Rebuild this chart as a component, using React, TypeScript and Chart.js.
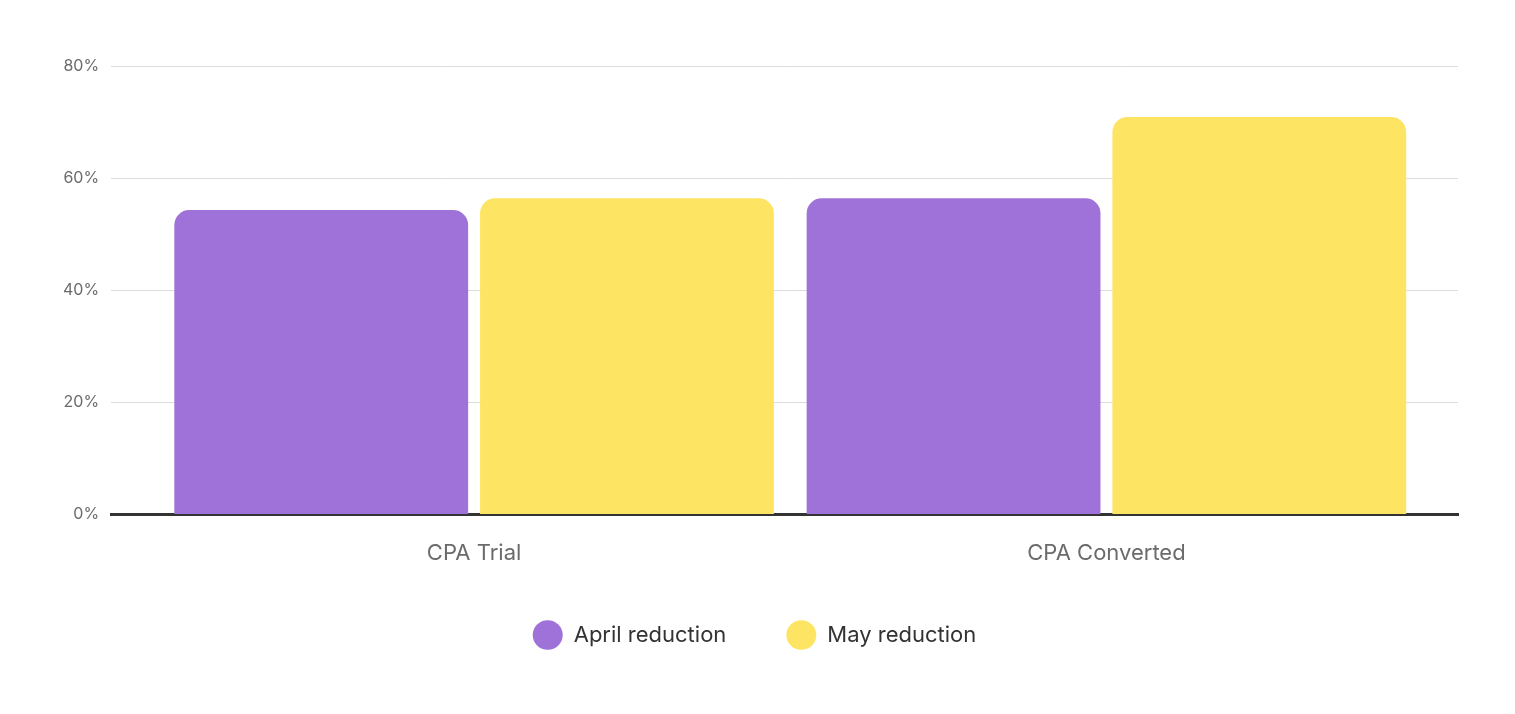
import React, { useEffect, useRef } from "react";
import { Chart, registerables } from "chart.js";

Chart.register(...registerables);

const categories = ["CPA Trial", "CPA Converted"];
const aprilReduction = [54.3, 56.4];
const mayReduction = [56.4, 70.9];
const yMax = 80;
const yStep = 20;

// category domain is a bit wider than the two slots (grid runs past the bars)
const xStartValue = -0.574;
const xValueRange = 2.13;

const App = () => {
  const chartRef = useRef<HTMLCanvasElement>(null);

  useEffect(() => {
    document.body.style.margin = "0";
    const ctx = chartRef.current?.getContext("2d");
    if (!ctx) return;

    const myChart = new Chart(ctx, {
      type: "bar",
      data: {
        labels: categories,
        datasets: [
          {
            label: "April reduction",
            data: aprilReduction,
            backgroundColor: "#9E72D8",
            borderRadius: 15,
            borderSkipped: "start",
          },
          {
            label: "May reduction",
            data: mayReduction,
            backgroundColor: "#FEE463",
            borderRadius: 15,
            borderSkipped: "start",
          },
        ],
      },
      options: {
        animation: false,
        responsive: true,
        maintainAspectRatio: false,
        categoryPercentage: 0.967,
        barPercentage: 0.961,
        layout: {
          padding: { top: 66, right: 57, bottom: 58, left: 51 },
        },
        font: { family: "Inter" },
        scales: {
          x: {
            offset: false,
            afterBuildTicks: (scale: any) => {
              scale.ticks = categories.map((_, i) => ({ value: i }));
              scale._startValue = xStartValue;
              scale._valueRange = xValueRange;
            },
            // legend padding is big (for item spacing), pull it up closer to the labels
            afterFit: (scale: any) => {
              scale.height -= 21;
            },
            grid: { display: false },
            border: { display: true, color: "#333333", width: 3 },
            ticks: {
              color: "#6b6b6b",
              padding: 18,
              font: { family: "Inter", size: 22 },
            },
          },
          y: {
            min: 0,
            max: yMax,
            ticks: {
              stepSize: yStep,
              color: "#6b6b6b",
              padding: 12,
              font: { family: "Inter", size: 16 },
              callback: (v) => v + "%",
            },
            grid: {
              color: "#dcdcdc",
              lineWidth: 1,
              drawTicks: false,
            },
            border: { display: false },
          },
        },
        plugins: {
          tooltip: { enabled: false },
          legend: {
            position: "bottom",
            labels: {
              usePointStyle: true,
              pointStyle: "circle",
              pointStyleWidth: 30,
              boxHeight: 21,
              padding: 60,
              color: "#333333",
              font: { family: "Inter", size: 22 },
            },
          },
        },
      },
    });

    return () => {
      myChart.destroy();
    };
  }, []);

  return (
    <div style={{ position: "relative", width: 1515, height: 714 }}>
      <canvas ref={chartRef}></canvas>
    </div>
  );
};

export default App;
